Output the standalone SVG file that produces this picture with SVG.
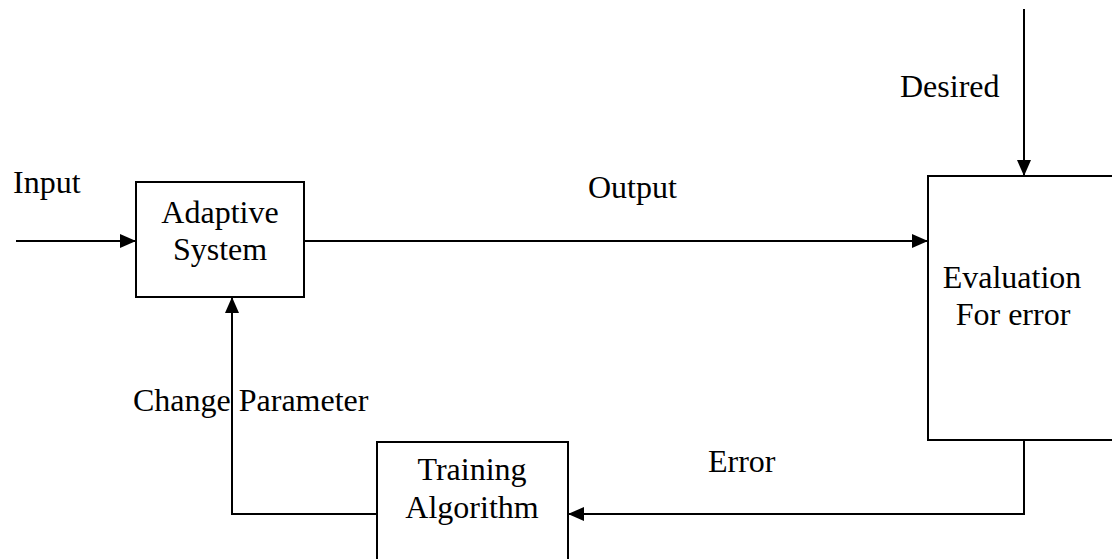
<svg xmlns="http://www.w3.org/2000/svg" width="1112" height="559" viewBox="0 0 1112 559">
<style>
text{font-family:"Liberation Serif","Times New Roman",serif;font-size:32px;fill:#000}
.c{text-anchor:middle}
.box{fill:#fff;stroke:#000;stroke-width:2}
.ln{fill:none;stroke:#000;stroke-width:2}
</style>
<defs>
<marker id="ah" viewBox="0 0 16 14" refX="16" refY="7" markerWidth="16" markerHeight="14" markerUnits="userSpaceOnUse" orient="auto">
<path d="M0,0 L16,7 L0,14 Z" fill="#000"/>
</marker>
</defs>
<rect width="1112" height="559" fill="#fff"/>
<g id="connectors">
<line class="ln" x1="16" y1="241" x2="136" y2="241" marker-end="url(#ah)"/>
<line class="ln" x1="304" y1="241" x2="928" y2="241" marker-end="url(#ah)"/>
<line class="ln" x1="1024" y1="9" x2="1024" y2="176" marker-end="url(#ah)"/>
<polyline class="ln" points="1024,440 1024,514 568,514" marker-end="url(#ah)"/>
<polyline class="ln" points="377,514 232,514 232,297" marker-end="url(#ah)"/>
</g>
<g id="adaptive">
<rect class="box" x="136" y="182" width="168" height="115"/>
<text class="c" x="220" y="223">Adaptive</text>
<text class="c" x="220" y="260">System</text>
</g>
<g id="evaluation">
<rect class="box" x="928" y="176" width="190" height="264"/>
<text class="c" x="1012" y="288">Evaluation</text>
<text class="c" x="1013" y="325">For error</text>
</g>
<g id="training">
<rect class="box" x="377" y="442" width="191" height="130"/>
<text class="c" x="472" y="480">Training</text>
<text class="c" x="472" y="518">Algorithm</text>
</g>
<g id="labels">
<text x="13" y="193">Input</text>
<text x="588" y="198">Output</text>
<text x="900" y="97">Desired</text>
<text x="133" y="411">Change Parameter</text>
<text x="708" y="472">Error</text>
</g>
</svg>
